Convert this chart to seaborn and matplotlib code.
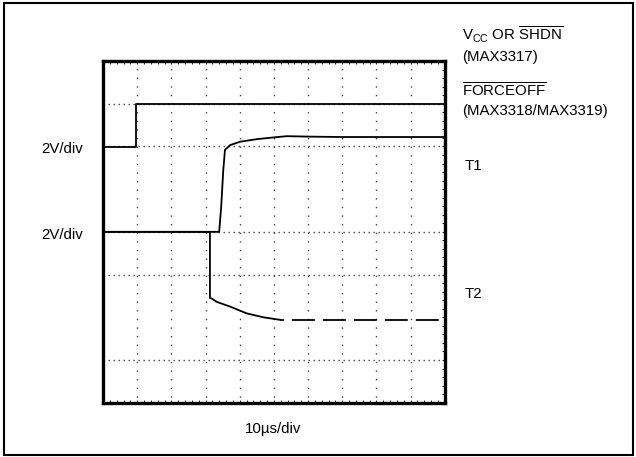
import matplotlib
matplotlib.use("Agg")
import matplotlib.pyplot as plt
import matplotlib.patches as mpatches
from matplotlib import font_manager
from matplotlib.ticker import MultipleLocator, NullFormatter
import seaborn as sns
import pandas as pd

# ---- data (in scope divisions: x 0..10, y 0..8 from bottom) ----
vcc_x = [0.0, 0.96, 0.96, 2.0, 4.0, 6.0, 8.0, 10.0]
vcc_y = [5.99, 5.99, 7.0, 7.0, 7.0, 7.0, 7.0, 7.0]

t1_x = [0.0, 3.40, 3.46, 3.52, 3.57, 3.72, 4.01, 4.50, 4.98, 5.38, 6.0, 7.0, 8.0, 9.0, 10.0]
t1_y = [4.0, 4.0, 4.6, 5.45, 5.92, 6.03, 6.11, 6.17, 6.21, 6.24, 6.23, 6.22, 6.22, 6.22, 6.22]

t2_x = [0.0, 3.13, 3.13, 3.18, 3.33, 3.72, 4.21, 4.69, 5.18]
t2_y = [4.0, 4.0, 2.45, 2.44, 2.36, 2.25, 2.09, 2.0, 1.94]

t2_tail_x = [5.18, 9.82]
t2_tail_y = [1.93, 1.93]

grid_x = [1, 2, 3, 4, 5, 6, 7, 8, 9]
grid_y = [1, 3, 4, 6, 7]

left_labels = ["2V/div", "2V/div"]
x_label = "10\u00b5s/div"

# ---- fonts ----
def pick(fams):
    for f in fams:
        try:
            font_manager.findfont(font_manager.FontProperties(family=f), fallback_to_default=False)
            return f
        except Exception:
            pass
    return "DejaVu Sans"

sns.set_style("white")
FAM = pick(["Liberation Sans Narrow", "Liberation Sans", "DejaVu Sans"])
narrow = FAM == "Liberation Sans Narrow"
FS = 12.6 if narrow else 10.8
plt.rcParams["font.family"] = [FAM, "DejaVu Sans"]
plt.rcParams["mathtext.fontset"] = "custom"
plt.rcParams["mathtext.rm"] = FAM
plt.rcParams["mathtext.it"] = FAM
plt.rcParams["mathtext.bf"] = FAM
plt.rcParams["lines.scale_dashes"] = False

W, H = 636, 457
fig = plt.figure(figsize=(W / 100, H / 100), dpi=100)
fig.patch.set_facecolor("white")

# axes box in pixels
x0, x1, ytop, ybot = 103.0, 444.7, 61.0, 402.7
ax = fig.add_axes([x0 / W, 1 - ybot / H, (x1 - x0) / W, (ybot - ytop) / H])
ax.set_xlim(0, 10)
ax.set_ylim(0, 8)

# grid
for gx in grid_x:
    ax.axvline(gx, color="#444444", lw=1.0, linestyle=(2, (1.0, 5.2)), zorder=1)
for gy in grid_y:
    ax.axhline(gy, color="#444444", lw=1.0, linestyle=(0, (1.0, 2.6)), zorder=1)

def trace(xs, ys, **kw):
    df = pd.DataFrame({"x": xs, "y": ys})
    sns.lineplot(data=df, x="x", y="y", ax=ax, estimator=None, sort=False,
                 color="black", legend=False, **kw)

trace(vcc_x, vcc_y, lw=1.3, zorder=3)
trace(t1_x, t1_y, lw=1.3, zorder=3)
trace(t2_x, t2_y, lw=1.3, zorder=3)
trace(t2_tail_x, t2_tail_y, lw=1.3, zorder=3, linestyle=(13.7, (16.5, 5.8)))

ax.set_xlabel("")
ax.set_ylabel("")
for s in ax.spines.values():
    s.set_visible(True)
    s.set_linewidth(2.4)
    s.set_color("black")

ax.xaxis.set_major_locator(MultipleLocator(1))
ax.yaxis.set_major_locator(MultipleLocator(1))
ax.xaxis.set_minor_locator(MultipleLocator(0.2))
ax.yaxis.set_minor_locator(MultipleLocator(0.2))
ax.xaxis.set_major_formatter(NullFormatter())
ax.yaxis.set_major_formatter(NullFormatter())
ax.tick_params(which="both", direction="in", length=2.0, width=0.8, color="#333333",
               top=True, bottom=True, right=True, left=False,
               labelbottom=False, labelleft=False)

# outer border
fig.patches.append(mpatches.Rectangle((4 / W, 1 - 455 / H), 629 / W, 452 / H,
                                      transform=fig.transFigure, fill=False,
                                      lw=1.5, edgecolor="black"))

def ftext(px, py, s, **kw):
    fig.text(px / W, 1 - py / H, s, fontsize=FS, color="black", va="baseline", **kw)

ftext(83.5, 152.5, left_labels[0], ha="right")
ftext(83.5, 239.0, left_labels[1], ha="right")
ftext(273.5, 432.5, x_label, ha="center")
ftext(462.5, 40.8, r"V$_{\mathrm{CC}}$ OR $\overline{\mathrm{SHDN}}$", ha="left")
ftext(462.5, 60.5, "(MAX3317)", ha="left")
ftext(462.5, 97.2, r"$\overline{\mathrm{FORCEOFF}}$", ha="left")
ftext(462.5, 114.5, "(MAX3318/MAX3319)", ha="left")
ftext(464.5, 170.0, "T1", ha="left")
ftext(464.5, 298.0, "T2", ha="left")

fig.savefig("out.png", dpi=100, facecolor="white")
